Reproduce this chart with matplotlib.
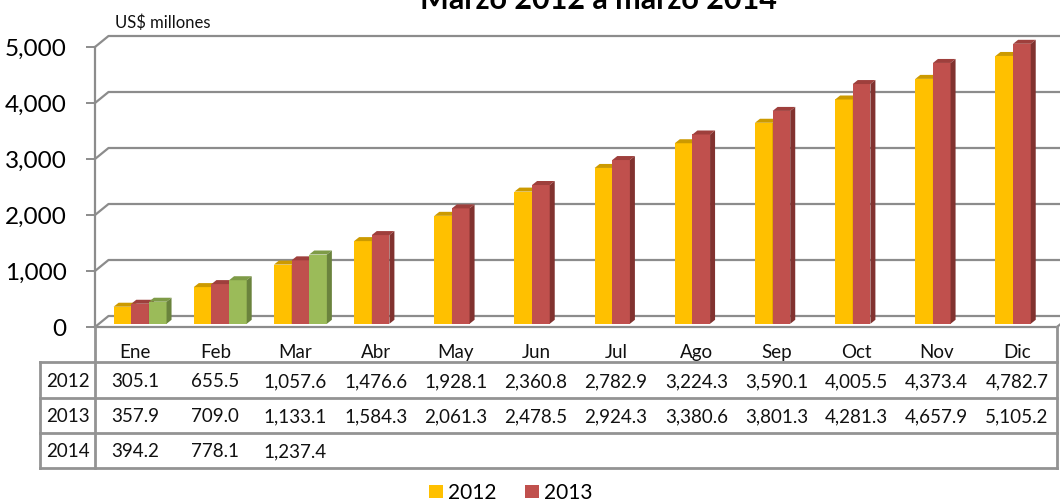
import matplotlib
matplotlib.use("Agg")
import matplotlib.pyplot as plt
from matplotlib.patches import Polygon, Patch

plt.rcParams['font.family'] = ['Lato', 'DejaVu Sans']

# ---- data ----
months = ["Ene", "Feb", "Mar", "Abr", "May", "Jun", "Jul", "Ago", "Sep", "Oct", "Nov", "Dic"]
years = ["2012", "2013", "2014"]
v2012 = [305.1, 655.5, 1057.6, 1476.6, 1928.1, 2360.8, 2782.9, 3224.3, 3590.1, 4005.5, 4373.4, 4782.7]
v2013 = [357.9, 709.0, 1133.1, 1584.3, 2061.3, 2478.5, 2924.3, 3380.6, 3801.3, 4281.3, 4657.9, 5105.2]
v2014 = [394.2, 778.1, 1237.4]
yticks = [0, 1000, 2000, 3000, 4000, 5000]
title = "Marzo 2012 a marzo 2014"
unit_label = "US$ millones"

series = [v2012, v2013, v2014]
front = ["#FFC000", "#C0504D", "#9BBB59"]
top_c = ["#CC9A00", "#9E3F3C", "#7E9B47"]
side_c = ["#B38700", "#81322F", "#6A833D"]
grid_c = "#8C8C8C"

W_PX, H_PX = 1060, 503
fig = plt.figure(figsize=(W_PX / 100, H_PX / 100), dpi=100)

def fx(px):
    return px / W_PX

def fy(py):
    return 1 - py / H_PX

YMAX = 5000

# main axis (front plane)
L, R, T, B = 95, 1057, 47, 327
ax = fig.add_axes([fx(L), fy(B), (R - L) / W_PX, (B - T) / H_PX])
ax.set_xlim(0, 12)
ax.set_ylim(0, YMAX)
ax.patch.set_visible(False)
for s in ["top", "right"]:
    ax.spines[s].set_visible(False)
for s in ["left", "bottom"]:
    ax.spines[s].set_color(grid_c)
    ax.spines[s].set_linewidth(1.6)
ax.set_xticks([])
ax.set_yticks(yticks)
ax.set_yticklabels([f"{t:,}" for t in yticks])
ax.tick_params(axis="y", length=6.5, width=1.4, color=grid_c, pad=14, labelsize=17.5)

px_per_cat = (R - L) / 12
px_per_val = (B - T) / YMAX
DXg = 13.5 / px_per_cat
DYg = 11.0 / px_per_val
for t in yticks:
    ax.plot([0, DXg, 12 + DXg], [t, t + DYg, t + DYg], color=grid_c, lw=1.6,
            clip_on=False, zorder=1, solid_capstyle="butt")
ax.plot([12, 12 + DXg], [0, DYg], color=grid_c, lw=1.6, clip_on=False, zorder=1)

# bar axes (bars sit at mid depth of the floor, same value scale)
BOFF = 3.2 / px_per_val
bax = fig.add_axes([fx(L), fy(B), (R - L) / W_PX, (B - T) / H_PX])
bax.set_xlim(0, 12)
bax.set_ylim(-BOFF, YMAX - BOFF)
bax.axis("off")
bax.set_zorder(ax.get_zorder() + 1)

BW = 0.22
SHIFT = 5.0 / px_per_cat
BX = 5.0 / px_per_cat
BY = 4.0 / px_per_val
for s, vals in enumerate(series):
    for i, val in enumerate(vals):
        v = min(val, YMAX)  # columns are cut at the axis maximum
        x0 = i + 0.5 + SHIFT + (s - 1) * BW - BW / 2
        bars = bax.bar(x0, v, BW, align="edge", color=front[s], lw=0, zorder=3 + s)
        for b in bars:
            b.set_clip_on(False)
        bax.add_patch(Polygon([(x0, v), (x0 + BW, v), (x0 + BW + BX, v + BY), (x0 + BX, v + BY)],
                              closed=True, fc=top_c[s], lw=0, zorder=3 + s, clip_on=False))
        bax.add_patch(Polygon([(x0 + BW, 0), (x0 + BW + BX, BY), (x0 + BW + BX, v + BY), (x0 + BW, v)],
                              closed=True, fc=side_c[s], lw=0, zorder=3 + s, clip_on=False))

# data table
TB = 468
tab = fig.add_axes([fx(L), fy(TB), (R - L) / W_PX, (TB - B) / H_PX])
tab.set_xlim(0, 12)
tab.set_ylim(4, 0)
tab.axis("off")
xl = -(L - 40) / px_per_cat
lc = "#939393"
for r in [1, 2, 3, 4]:
    tab.plot([xl, 12], [r, r], color=lc, lw=2, clip_on=False, solid_capstyle="projecting")
tab.plot([xl, xl], [1, 4], color=lc, lw=2, clip_on=False)
tab.plot([0, 0], [0, 4], color=lc, lw=2, clip_on=False)
tab.plot([12, 12], [0, 4], color=lc, lw=2, clip_on=False)

for i, m in enumerate(months):
    tab.text(i + 0.5, 0.68, m, ha="center", va="center_baseline", fontsize=13.5, color="#111111")
for r, (yr, vals) in enumerate(zip(years, series)):
    tab.text(xl / 2, r + 1.5, yr, ha="center", va="center_baseline", fontsize=13.5, color="#111111")
    for i, v in enumerate(vals):
        tab.text(i + 0.5, r + 1.5, f"{v:,.1f}", ha="center", va="center_baseline",
                 fontsize=13.5, color="#111111")

# texts
fig.text(fx(598), fy(9), title, ha="center", va="baseline", fontsize=22, fontweight="bold", color="#000000")
fig.text(fx(115), fy(28), unit_label, ha="left", va="baseline", fontsize=12, color="#111111")

handles = [Patch(fc=front[0], lw=0), Patch(fc=front[1], lw=0)]
fig.legend(handles, years[:2], loc="center", bbox_to_anchor=(fx(511), fy(493)), ncol=2,
           frameon=False, fontsize=15, handlelength=0.67, handleheight=0.62,
           handletextpad=0.25, columnspacing=1.35, borderpad=0, borderaxespad=0)

fig.savefig("out.png", dpi=100)
